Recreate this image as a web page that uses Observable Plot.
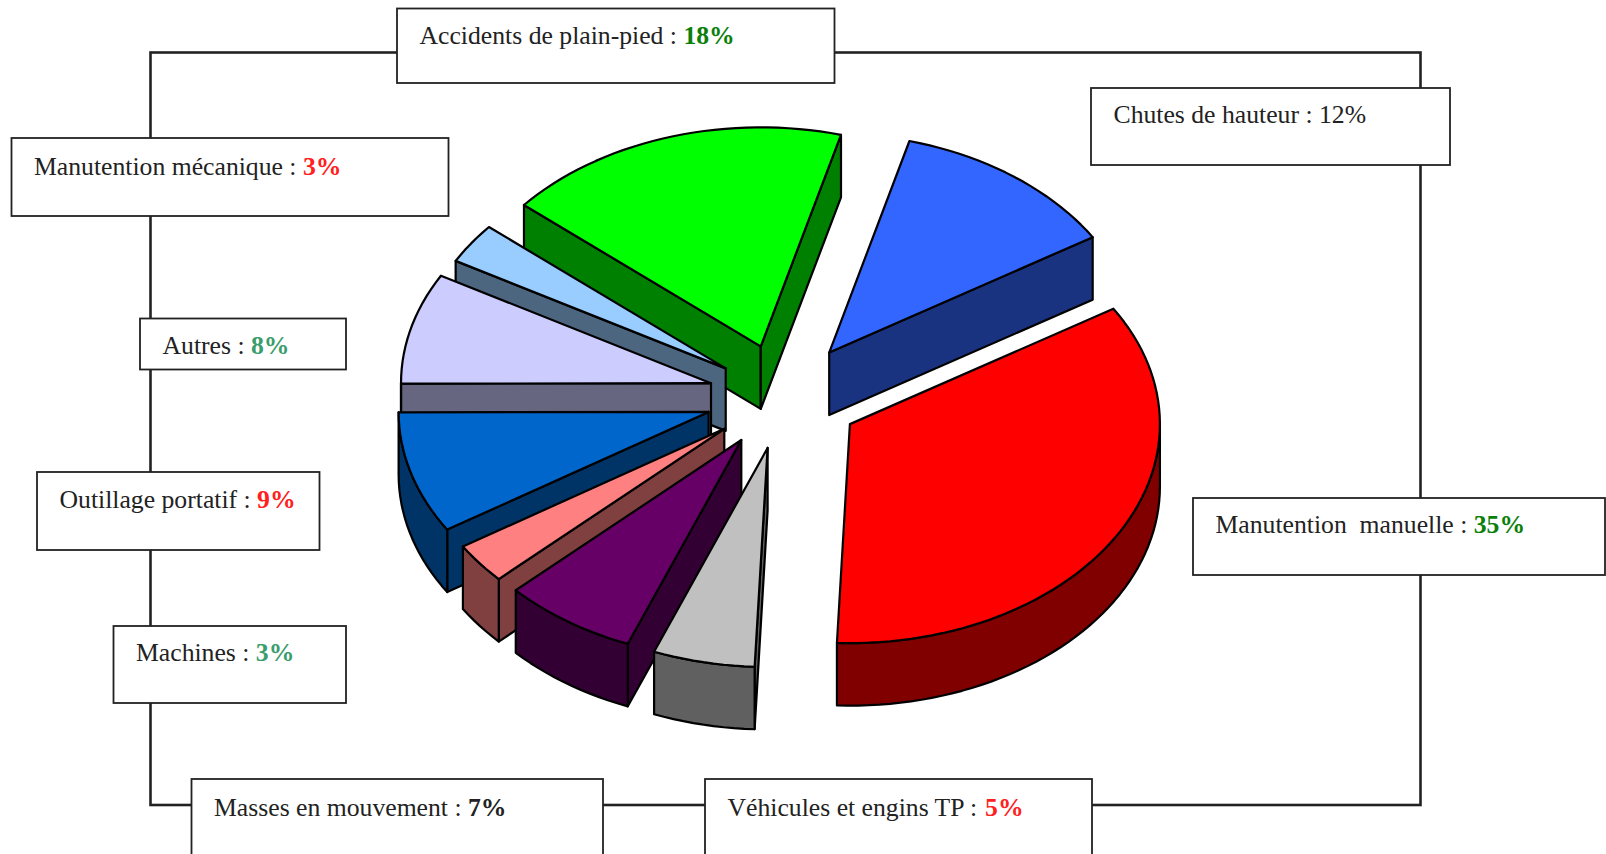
<!DOCTYPE html>
<html lang="fr">
<head>
<meta charset="utf-8">
<script src="https://cdn.jsdelivr.net/npm/d3@7"></script>
<script src="https://cdn.jsdelivr.net/npm/@observablehq/plot@0.6"></script>
<style>
html,body{margin:0;padding:0;background:#fff;overflow:hidden}
svg{display:block}
</style>
</head>
<body>
<div id="chart"></div>
<script>
// Data, clockwise from the start angle
const labels = ["Chutes de hauteur","Manutention\u00a0 manuelle","Véhicules et engins TP","Masses en mouvement","Machines","Outillage portatif","Autres","Manutention mécanique","Accidents de plain-pied"];
const values = [12,35,5,7,3,9,8,3,18];
// slice sizes as drawn in the picture (the labels are rounded)
const shares = [12,34.5,5.3,7,3,9,8.2,3,18];
const explodeBy = [0.25,0.25,0.24,0.24,0.24,0.25,0.24,0.225,0.24];
const topColors = ["#3366ff","#ff0000","#c0c0c0","#660066","#ff8080","#0066cc","#ccccff","#99ccff","#00ff00"];
const sideColors = ["#1a3380","#800000","#606060","#330033","#804040","#003366","#666680","#4d6680","#008000"];
const pctColors = ["#222222","#0a800a","#ff2020","#222222","#3a9d6c","#ff2020","#3a9d6c","#ff2020","#0a800a"];
const pctWeights = ["normal","bold","bold","bold","bold","bold","bold","bold","bold"];

// Layout of the label boxes (left, top, right, bottom) and text nudges
const boxLeft = [1091,1193,705,191.5,113.5,37,140,11.5,397];
const boxTop = [88,498,779,779,626,472,318.5,138,8.5];
const boxRight = [1450,1605,1092,603,346,319.5,346,448.5,834.5];
const boxBottom = [165,575,880,880,703,550,369.5,216,83];
const textNudge = [-1,-1,1,1,-1,0,0,1,0];
const frame = {x1:150.5,x2:1420.5,y1:52.5,y2:805};

// Pie geometry
const pie = {cx:782.5,cy:396,rx:310,ry:219,depth:62.5,start:15};
const font = "Liberation Serif";
const fontSize = 25.7;

const rad = d => d*Math.PI/180;
const faces = [];
let acc = pie.start;
const slices = shares.map((v,i) => {
  const t0 = acc, t1 = acc + v*3.6; acc = t1;
  const mid = (t0+t1)/2;
  const ax = pie.cx + explodeBy[i]*pie.rx*Math.sin(rad(mid));
  const ay = pie.cy - explodeBy[i]*pie.ry*Math.cos(rad(mid));
  return {i,t0,t1,mid,ax,ay};
});
const rim = (s,t,dz=0) => ({x:s.ax+pie.rx*Math.sin(rad(t)), y:s.ay-pie.ry*Math.cos(rad(t))+dz});
const sweep = (a,b) => { const n=Math.max(2,Math.ceil((b-a)/2)); return d3.range(n+1).map(k=>a+(b-a)*k/n); };

// back slices first
[...slices].sort((a,b)=>Math.cos(rad(b.mid))-Math.cos(rad(a.mid))).forEach(s => {
  const side = sideColors[s.i], top = topColors[s.i], d = pie.depth;
  const apex = {x:s.ax,y:s.ay}, apexB = {x:s.ax,y:s.ay+d};
  if (Math.sin(rad(s.t0))<0) faces.push({fill:side,pts:[apex,rim(s,s.t0),rim(s,s.t0,d),apexB,apex]});
  if (Math.sin(rad(s.t1))>0) faces.push({fill:side,pts:[apex,rim(s,s.t1),rim(s,s.t1,d),apexB,apex]});
  const a = Math.max(s.t0,90), b = Math.min(s.t1,270);
  if (b>a) {
    const ts = sweep(a,b);
    faces.push({fill:side,pts:[...ts.map(t=>rim(s,t)),...ts.slice().reverse().map(t=>rim(s,t,d)),rim(s,a)]});
  }
  faces.push({fill:top,pts:[apex,...sweep(s.t0,s.t1).map(t=>rim(s,t)),apex]});
});

// canvas measurement so the percentage follows its label
const ctx = document.createElement("canvas").getContext("2d");
ctx.font = `${fontSize}px "${font}"`;
const rows = labels.map((label,i) => {
  const prefix = label + " :\u00a0";
  const x = boxLeft[i]+22;
  return {prefix, pct:values[i]+"%", x, y:boxTop[i]+36+textNudge[i], px:x+ctx.measureText(prefix).width, color:pctColors[i], weight:pctWeights[i]};
});
const boxes = labels.map((_,i)=>({x1:boxLeft[i],x2:boxRight[i],y1:boxTop[i],y2:boxBottom[i]}));
const pctMark = (weight) => Plot.text(rows.filter(d=>d.weight===weight),{x:"px",y:"y",text:"pct",textAnchor:"start",lineAnchor:"bottom",fontSize,fill:"color",fontWeight:weight,dy:-1});

const chart = Plot.plot({
  width:1606, height:854, margin:0,
  x:{domain:[0,1606],range:[0,1606],axis:null},
  y:{domain:[0,854],range:[0,854],axis:null},
  style:{background:"#fff",fontFamily:`"${font}"`},
  marks:[
    Plot.rect([frame],{x1:"x1",x2:"x2",y1:"y1",y2:"y2",fill:"none",stroke:"#222",strokeWidth:2.6}),
    Plot.rect(boxes,{x1:"x1",x2:"x2",y1:"y1",y2:"y2",fill:"#fff",stroke:"#222",strokeWidth:1.8}),
    ...faces.map(f=>Plot.line(f.pts,{x:"x",y:"y",fill:f.fill,stroke:"#000",strokeWidth:2.2,strokeLinejoin:"round"})),
    Plot.text(rows,{x:"x",y:"y",text:"prefix",textAnchor:"start",lineAnchor:"bottom",fontSize,fill:"#222",dy:-1}),
    pctMark("normal"),
    pctMark("bold")
  ],
  color:{type:"identity"}
});
document.getElementById("chart").append(chart);
</script>
</body>
</html>
